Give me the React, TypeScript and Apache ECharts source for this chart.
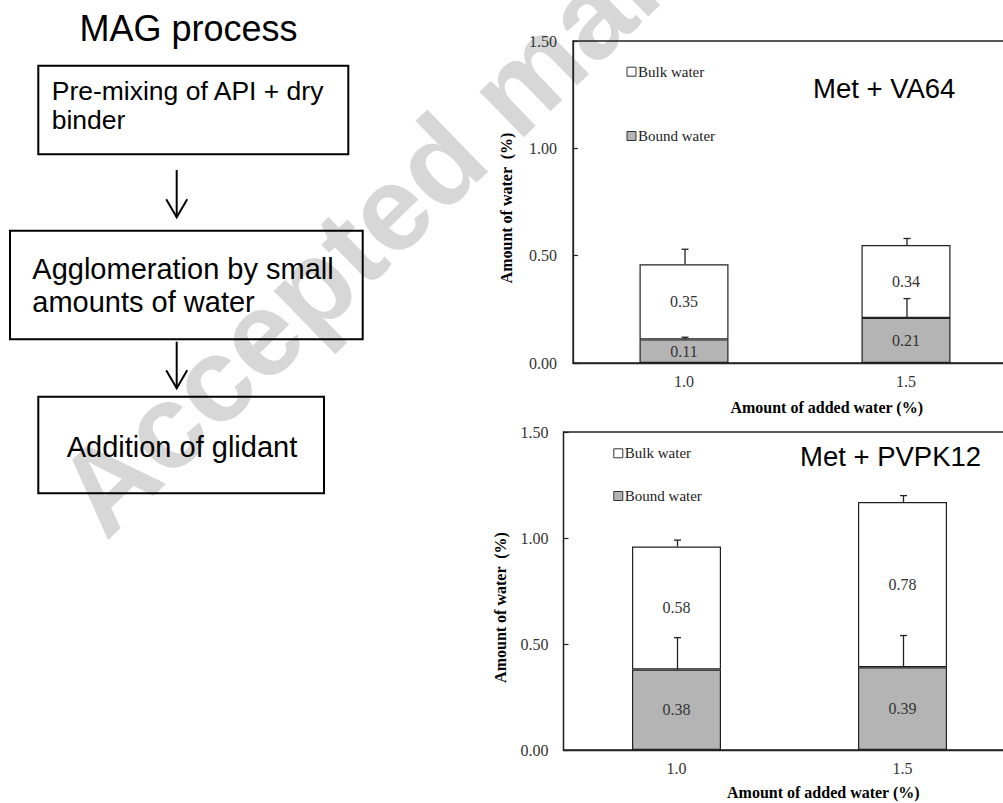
import React, { useEffect, useRef } from 'react';
import * as echarts from 'echarts';

// ---------------- data ----------------
const categories = ['1.0', '1.5'];
const seriesNames = ['Bound water', 'Bulk water'];
const legendOrder = ['Bulk water', 'Bound water'];
const panelTitles = ['Met + VA64', 'Met + PVPK12'];

const va64Bound = [0.11, 0.21];
const va64Bulk = [0.35, 0.34];
const va64BoundErr = [0.01, 0.09];
const va64BulkErr = [0.07, 0.03];

const pvpBound = [0.38, 0.39];
const pvpBulk = [0.58, 0.78];
const pvpBoundErr = [0.15, 0.15];
const pvpBulkErr = [0.03, 0.03];

const yMin = 0;
const yMax = 1.5;
const yInterval = 0.5;

const xAxisName = 'Amount of added water (%)';
const yAxisName = 'Amount of water  (%)';

const flowTitle = 'MAG process';
const flowStep1 = ['Pre-mixing of API + dry', 'binder'];
const flowStep2 = ['Agglomeration by small', 'amounts of water'];
const flowStep3 = ['Addition of glidant'];
const watermark = 'Accepted manuscript';

// ---------------- styles ----------------
const SERIF = '"Liberation Serif", "Times New Roman", serif';
const SANS = '"Liberation Sans", Arial, sans-serif';
const AXIS = '#222';
const GRAY = '#b4b4b4';

const panels = [
  { grid: { left: 573, top: 41, width: 444, height: 322 }, bound: va64Bound, bulk: va64Bulk, boundErr: va64BoundErr, bulkErr: va64BulkErr, labelMargin: 16 },
  { grid: { left: 563.5, top: 432, width: 452, height: 318 }, bound: pvpBound, bulk: pvpBulk, boundErr: pvpBoundErr, bulkErr: pvpBulkErr, labelMargin: 15 },
];

function errData(bound: number[], bulk: number[], boundErr: number[], bulkErr: number[]) {
  const out: number[][] = [];
  bound.forEach((b, i) => {
    out.push([i, b, boundErr[i]]);
    out.push([i, b + bulk[i], bulkErr[i]]);
  });
  return out;
}

function txt(text: string, x: number, y: number, size: number, opts: any = {}) {
  return {
    type: 'text',
    x,
    y,
    rotation: opts.rotation || 0,
    z: opts.z ?? 10,
    silent: true,
    style: {
      text,
      x: 0,
      y: 0,
      fill: opts.fill || '#000',
      fontSize: size,
      fontFamily: opts.family || SANS,
      fontWeight: opts.weight || 'normal',
      align: opts.align || 'left',
      textAlign: opts.align || 'left',
      verticalAlign: 'middle',
      textVerticalAlign: 'middle',
    },
  };
}

// baseline -> middle position for sans text
const mid = (baseline: number, size: number) => baseline - 0.35 * size;

function box(x1: number, y1: number, x2: number, y2: number) {
  return {
    type: 'rect',
    z: 10,
    silent: true,
    shape: { x: x1, y: y1, width: x2 - x1, height: y2 - y1 },
    style: { fill: 'none', stroke: '#000', lineWidth: 2 },
  };
}

function arrow(x: number, y1: number, y2: number) {
  return [
    { type: 'line', z: 10, silent: true, shape: { x1: x, y1, x2: x, y2 }, style: { stroke: '#000', lineWidth: 2 } },
    {
      type: 'polyline', z: 10, silent: true,
      shape: { points: [[x - 10.5, y2 - 18], [x, y2], [x + 10.5, y2 - 18]] },
      style: { stroke: '#000', lineWidth: 2, fill: 'none' },
    },
  ];
}

export default function App() {
  const ref = useRef<HTMLDivElement>(null);

  useEffect(() => {
    if (!ref.current) return;
    const chart = echarts.init(ref.current, null, { renderer: 'svg' });

    const xAxes: any[] = [];
    const yAxes: any[] = [];
    const grids: any[] = [];
    const series: any[] = [];

    panels.forEach((p, pi) => {
      grids.push({
        ...p.grid,
        outerBoundsMode: 'none',
        containLabel: false,
        show: true,
        borderColor: AXIS,
        borderWidth: 1.3,
        backgroundColor: 'transparent',
      });
      xAxes.push({
        type: 'category',
        gridIndex: pi,
        data: categories,
        boundaryGap: true,
        axisLine: { lineStyle: { color: AXIS, width: 1.3 } },
        axisTick: { inside: true, length: 5, lineStyle: { color: AXIS, width: 1.2 } },
        axisLabel: { fontFamily: SERIF, fontSize: 16, color: '#333', margin: 10 },
        splitLine: { show: false },
      });
      yAxes.push({
        type: 'value',
        gridIndex: pi,
        min: yMin,
        max: yMax,
        interval: yInterval,
        axisLine: { show: true, lineStyle: { color: AXIS, width: 1.3 } },
        axisTick: { show: true, inside: true, length: 5, lineStyle: { color: AXIS, width: 1.2 } },
        axisLabel: { fontFamily: SERIF, fontSize: 16, color: '#333', margin: p.labelMargin, formatter: (v: number) => v.toFixed(2) },
        splitLine: { show: false },
      });
      const label = {
        show: true,
        position: 'inside',
        fontFamily: SERIF,
        fontSize: 16,
        color: '#333',
        formatter: (prm: any) => Number(prm.value).toFixed(2),
      };
      series.push({
        type: 'bar', name: seriesNames[0], stack: 'p' + pi, xAxisIndex: pi, yAxisIndex: pi,
        barWidth: 89, data: p.bound,
        itemStyle: { color: GRAY, borderColor: AXIS, borderWidth: 1.2 },
        label,
      });
      series.push({
        type: 'bar', name: seriesNames[1], stack: 'p' + pi, xAxisIndex: pi, yAxisIndex: pi,
        barWidth: 89, data: p.bulk,
        itemStyle: { color: '#ffffff', borderColor: AXIS, borderWidth: 1.2 },
        label,
      });
      series.push({
        type: 'custom', name: 'err' + pi, xAxisIndex: pi, yAxisIndex: pi, z: 5,
        data: errData(p.bound, p.bulk, p.boundErr, p.bulkErr),
        encode: { x: 0, y: 1 },
        renderItem: (params: any, api: any) => {
          const c = api.value(0);
          const base = api.value(1);
          const top = base + api.value(2);
          const p0 = api.coord([c, base]);
          const p1 = api.coord([c, top]);
          const st = { stroke: '#222', lineWidth: 1.3 };
          return {
            type: 'group',
            children: [
              { type: 'line', shape: { x1: p0[0] + 1, y1: p0[1], x2: p1[0] + 1, y2: p1[1] }, style: st },
              { type: 'line', shape: { x1: p1[0] - 2.5, y1: p1[1], x2: p1[0] + 4.5, y2: p1[1] }, style: st },
            ],
          };
        },
      });
    });

    const legendItems = (names: string[]) =>
      names.map((n) => ({
        name: n,
        itemStyle: { color: n === 'Bound water' ? GRAY : '#ffffff', borderColor: '#333', borderWidth: 1 },
      }));

    const legendCommon = {
      orient: 'vertical',
      icon: 'rect',
      itemWidth: 9,
      itemHeight: 9,
      padding: 0,
      selectedMode: false,
      textStyle: { fontFamily: SERIF, fontSize: 15, color: '#222', lineHeight: 16, padding: [0, 0, 0, -3] },
      data: legendItems(legendOrder),
    };

    const graphic: any[] = [
      // watermark
      {
        type: 'text',
        x: 106,
        y: 542,
        rotation: 0.77,
        z: -5,
        silent: true,
        style: {
          text: watermark,
          x: 0,
          y: -0.35 * 120,
          fill: '#d7d7d7',
          fontSize: 120,
          fontFamily: SANS,
          fontWeight: 'bold',
          align: 'left',
          textAlign: 'left',
          verticalAlign: 'middle',
          textVerticalAlign: 'middle',
        },
      },
      // flow chart
      txt(flowTitle, 188.5, mid(40.7, 36), 36, { align: 'center' }),
      box(38.3, 65.7, 348.3, 154.3),
      txt(flowStep1[0], 51.7, mid(100.7, 26.5), 26.5),
      txt(flowStep1[1], 51.7, mid(129.3, 26.5), 26.5),
      ...arrow(176.7, 170, 217.3),
      box(10, 230.7, 362.7, 339.3),
      txt(flowStep2[0], 32.3, mid(279.3, 29), 29),
      txt(flowStep2[1], 32.3, mid(311.7, 29), 29),
      ...arrow(176.7, 341.7, 388.3),
      box(38.3, 396.7, 324, 493.3),
      txt(flowStep3[0], 66.7, mid(456.7, 29), 29),
      // panel titles
      txt(panelTitles[0], 813, 88, 27.5),
      txt(panelTitles[1], 800, 456.7, 27.5),
      // axis names
      txt(xAxisName, 826.7, 407.7, 16, { align: 'center', family: SERIF, weight: 'bold' }),
      txt(xAxisName, 823.3, 792.7, 16, { align: 'center', family: SERIF, weight: 'bold' }),
      txt(yAxisName, 506.7, 208, 16, { align: 'center', family: SERIF, weight: 'bold', rotation: Math.PI / 2 }),
      txt(yAxisName, 500, 607.5, 16, { align: 'center', family: SERIF, weight: 'bold', rotation: Math.PI / 2 }),
    ];

    chart.setOption({
      animation: false,
      backgroundColor: '#ffffff',
      grid: grids,
      xAxis: xAxes,
      yAxis: yAxes,
      series,
      legend: [
        { ...legendCommon, left: 626.5, top: 63.7, itemGap: 48.3 },
        { ...legendCommon, left: 613.3, top: 445.3, itemGap: 26.7 },
      ],
      graphic,
    });

    return () => chart.dispose();
  }, []);

  return <div ref={ref} style={{ position: 'absolute', left: 0, top: 0, width: 1003, height: 803 }} />;
}
